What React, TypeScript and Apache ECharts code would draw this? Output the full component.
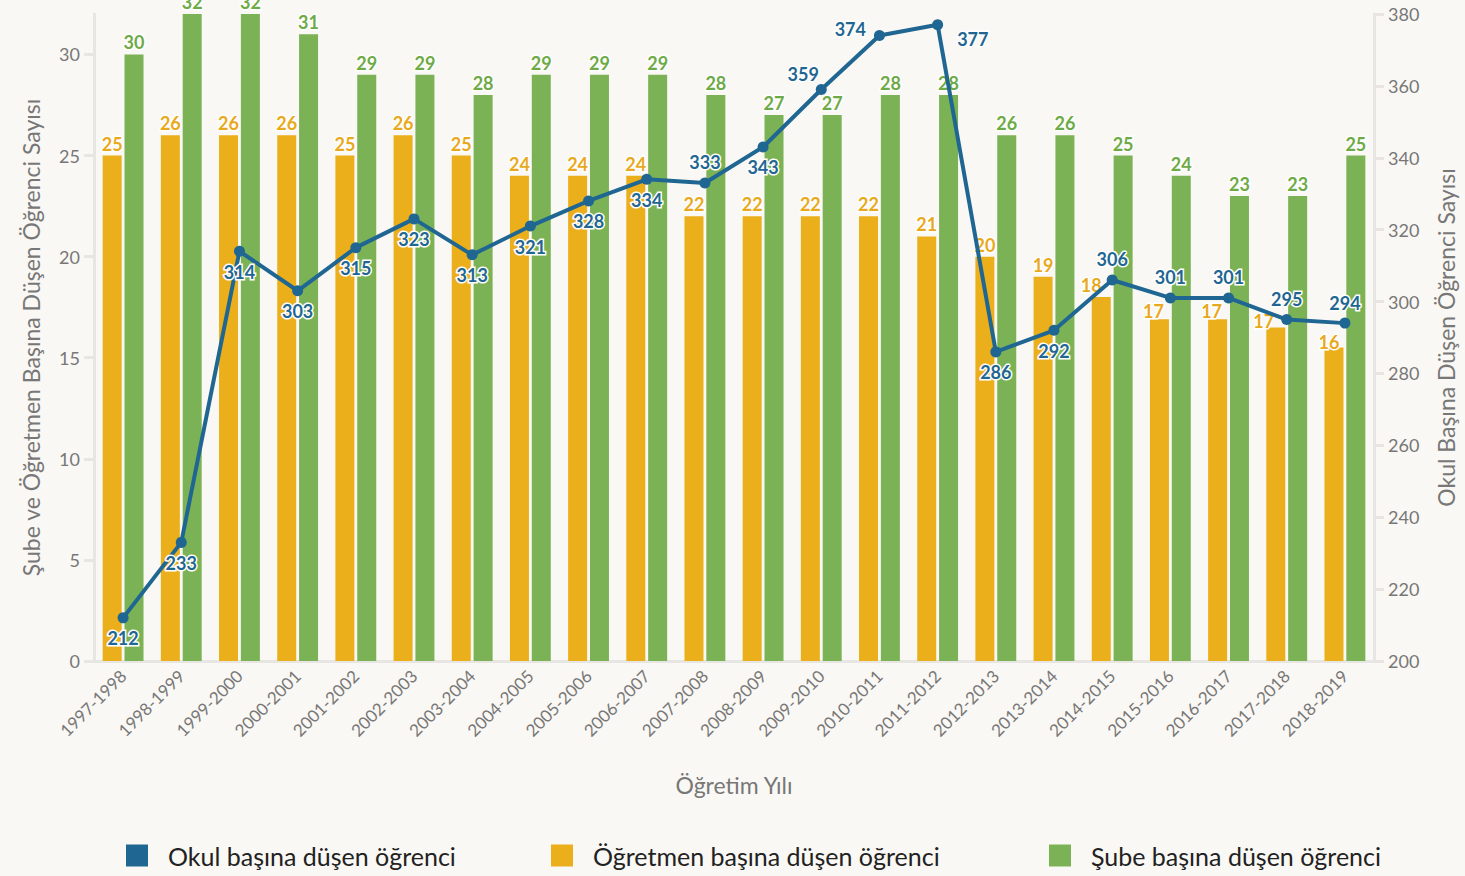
import React, { useEffect, useRef } from "react";
import * as echarts from "echarts";

const years = ["1997-1998","1998-1999","1999-2000","2000-2001","2001-2002","2002-2003","2003-2004","2004-2005","2005-2006","2006-2007","2007-2008","2008-2009","2009-2010","2010-2011","2011-2012","2012-2013","2013-2014","2014-2015","2015-2016","2016-2017","2017-2018","2018-2019"];
const okul = [212,233,314,303,315,323,313,321,328,334,333,343,359,374,377,286,292,306,301,301,295,294];
const ogretmen = [25,26,26,26,25,26,25,24,24,24,22,22,22,22,21,20,19,18,16.9,16.9,16.5,15.5];
const sube = [30,32,32,31,29,29,28,29,29,29,28,27,27,28,28,26,26,25,24,23,23,25];
const leftTicks = { min: 0, max: 32, interval: 5 };
const rightTicks = { min: 200, max: 380, interval: 20 };

const BLUE = "#1f6792";
const LEG_BLUE = "#26779a";
const ORANGE = "#ebaf1b";
const GREEN = "#7cb256";
const FONT = "Lato, 'Noto Sans', sans-serif";

// label placement for line points
const okulLabelPos: Record<number, any> = {
  10: { position: "top" },
  12: { position: "top", offset: [-18, 5] },
  13: { position: "left", offset: [-2, -7] },
  14: { position: "right", offset: [8, 14] },
  17: { position: "top" },
  18: { position: "top" },
  19: { position: "top" },
  20: { position: "top" },
  21: { position: "top" },
};
const ogretmenLabelOffset: Record<number, number[]> = {
  17: [-10, 0],
  18: [-6, 4],
  19: [-6, 4],
  20: [-12, 6],
  21: [-5, 6],
};

export default function App() {
  const ref = useRef<HTMLDivElement>(null);
  useEffect(() => {
    const chart = echarts.init(ref.current!, undefined, { renderer: "svg" });
    const axisGray = "#e8e6e2";
    const labelGray = "#777";
    chart.setOption({
      animation: false,
      backgroundColor: "#faf8f4",
      textStyle: { fontFamily: FONT },
      grid: { left: 94, right: 90, top: 14, bottom: 215 },
      legend: [
        { data: ["Okul başına düşen öğrenci"], left: 126, top: 843 },
        { data: ["Öğretmen başına düşen öğrenci"], left: 551, top: 843 },
        { data: ["Şube başına düşen öğrenci"], left: 1049, top: 843 },
      ].map((l) => ({
        ...l,
        padding: 0,
        icon: "rect",
        itemWidth: 22,
        itemHeight: 22,
        selectedMode: false,
        textStyle: { fontSize: 25, color: "#222", fontFamily: FONT, padding: [0, 0, 0, 15] },
      })),
      xAxis: {
        type: "category",
        data: years,
        name: "Öğretim Yılı",
        nameLocation: "middle",
        nameGap: 112,
        nameTextStyle: { fontSize: 23, color: labelGray },
        axisLine: { lineStyle: { color: axisGray, width: 3 } },
        axisTick: { alignWithLabel: true, length: 10, lineStyle: { color: axisGray, width: 3 } },
        axisLabel: { rotate: 45, fontSize: 17, color: labelGray, margin: 12 },
      },
      yAxis: [
        {
          type: "value",
          ...leftTicks,
          name: "Şube ve Öğretmen Başına Düşen Öğrenci Sayısı",
          nameLocation: "middle",
          nameGap: 52,
          nameTextStyle: { fontSize: 23, color: labelGray },
          axisLine: { show: true, lineStyle: { color: axisGray, width: 3 } },
          axisTick: { show: true, length: 10, lineStyle: { color: axisGray, width: 3 } },
          axisLabel: { fontSize: 18, color: labelGray, showMaxLabel: false, margin: 14 },
          splitLine: { show: false },
        },
        {
          type: "value",
          ...rightTicks,
          name: "Okul Başına Düşen Öğrenci Sayısı",
          nameLocation: "middle",
          nameGap: 60,
          nameTextStyle: { fontSize: 23, color: labelGray },
          axisLine: { show: true, lineStyle: { color: axisGray, width: 3 } },
          axisTick: { show: true, length: 10, lineStyle: { color: axisGray, width: 3 } },
          axisLabel: { fontSize: 18, color: labelGray, margin: 14 },
          splitLine: { show: false },
        },
      ],
      series: [
        {
          name: "Öğretmen başına düşen öğrenci",
          type: "bar",
          yAxisIndex: 0,
          barWidth: 19,
          barGap: "15%",
          itemStyle: { color: ORANGE },
          data: ogretmen.map((v, i) => ({
            value: v,
            label: ogretmenLabelOffset[i] ? { offset: ogretmenLabelOffset[i] } : undefined,
          })),
          label: {
            show: true,
            position: "top",
            distance: 3,
            formatter: (p: any) => String(Math.round(p.value)),
            fontSize: 18,
            fontWeight: "bold",
            color: "#e9a91c",
            textBorderColor: "#ffffff",
            textBorderWidth: 3,
          },
          z: 2,
        },
        {
          name: "Şube başına düşen öğrenci",
          type: "bar",
          yAxisIndex: 0,
          barWidth: 19,
          itemStyle: { color: GREEN },
          data: sube,
          label: {
            show: true,
            position: "top",
            distance: 3,
            fontSize: 18,
            fontWeight: "bold",
            color: "#6eaa46",
            textBorderColor: "#ffffff",
            textBorderWidth: 3,
          },
          z: 2,
        },
        {
          name: "Okul başına düşen öğrenci",
          type: "line",
          yAxisIndex: 1,
          data: okul.map((v, i) => ({
            value: v,
            label: okulLabelPos[i] || undefined,
          })),
          symbol: "circle",
          symbolSize: 11,
          color: LEG_BLUE,
          lineStyle: { color: BLUE, width: 4 },
          itemStyle: { color: BLUE },
          label: {
            show: true,
            position: "bottom",
            distance: 6,
            fontSize: 18,
            fontWeight: "bold",
            color: BLUE,
            textBorderColor: "#ffffff",
            textBorderWidth: 3,
          },
          z: 5,
        },
      ],
    });
    return () => chart.dispose();
  }, []);
  return <div ref={ref} style={{ width: 1465, height: 876, position: "absolute", left: 0, top: 0 }} />;
}
